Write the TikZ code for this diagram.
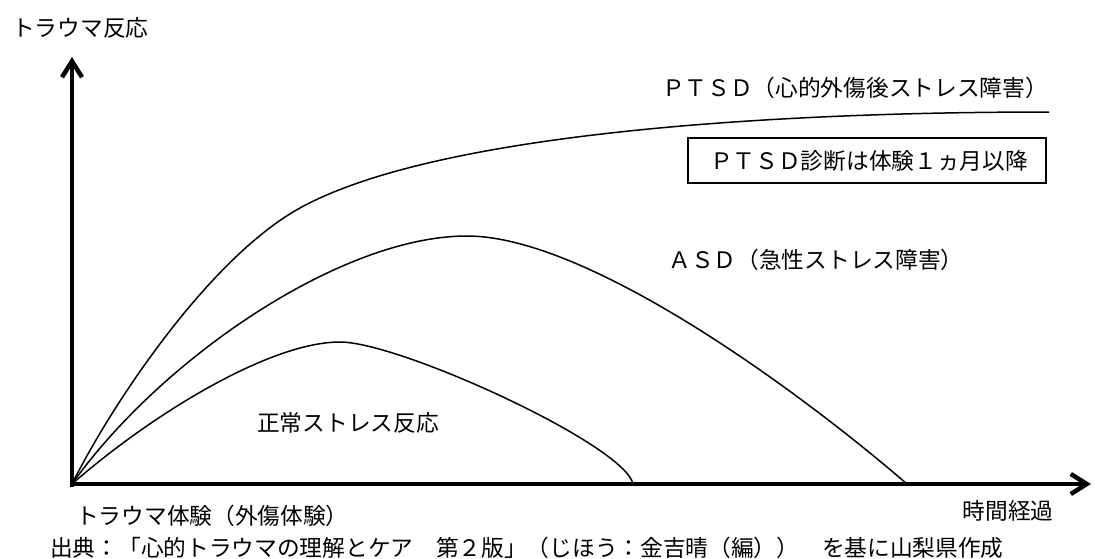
\documentclass[tikz,border=0pt]{standalone}
\usepackage{fontspec}
\setmainfont{Noto Sans CJK JP}
\usetikzlibrary{arrows.meta}
\tikzset{
  axis/.style={line width=4.5pt,-{Straight Barb[length=16pt,width=20pt]}},
  curve/.style={line width=1.5pt,line join=round},
  lbl/.style={inner sep=0pt,font=\fontsize{22.7pt}{27pt}\selectfont},
  notebox/.style={draw,line width=1.5pt,minimum width=358pt,minimum height=45pt,inner sep=0pt}
}
\begin{document}
\begin{tikzpicture}[x=1pt,y=-1pt]
\useasboundingbox[fill=white] (0,0) rectangle (1095,558);
\coordinate (O) at (72,484);
\coordinate (Obot) at (72,486.5);
\coordinate (Oleft) at (69.8,484);
\coordinate (ytop) at (72,57);
\coordinate (xend) at (1091,484);
\coordinate (ptsdmid) at (293,212);
\coordinate (ptsdend) at (1049,112);
\coordinate (asdpeak) at (467,236);
\coordinate (asdend) at (907,484);
\coordinate (normpeak) at (340,342);
\coordinate (normend) at (633,484);
% curves
\draw[curve] (O) .. controls (112,404) and (205,265) .. (ptsdmid)
                 .. controls (420,136) and (749,112) .. (ptsdend);
\draw[curve] (O) .. controls (160,360) and (340,236) .. (asdpeak)
                 .. controls (587,236) and (797,389) .. (asdend);
\draw[curve] (O) .. controls (152,414) and (270,342) .. (normpeak)
                 .. controls (400,342) and (625,445) .. (normend);
% axes
\draw[axis] (Obot) -- (ytop);
\draw[axis] (Oleft) -- (xend);
% labels
\node[lbl,anchor=west] (yl) at (12,28) {トラウマ反応};
\node[lbl] (ptsd) at (855,88) {ＰＴＳＤ（心的外傷後ストレス障害）};
\node[notebox] (box) at (867,160.5) {};
\node[lbl] (boxtxt) at (869,161) {ＰＴＳＤ診断は体験１ヵ月以降};
\node[lbl] (asd) at (816,260) {ＡＳＤ（急性ストレス障害）};
\node[lbl] (normal) at (348,423) {正常ストレス反応};
\node[lbl] (xl) at (1008,511) {時間経過};
\node[lbl,anchor=west] (ev) at (76,516) {トラウマ体験（外傷体験）};
\node[lbl,anchor=west] (src) at (50,548) {出典：「心的トラウマの理解とケア　第２版」（じほう：金吉晴（編））　を基に山梨県作成};
\end{tikzpicture}
\end{document}
